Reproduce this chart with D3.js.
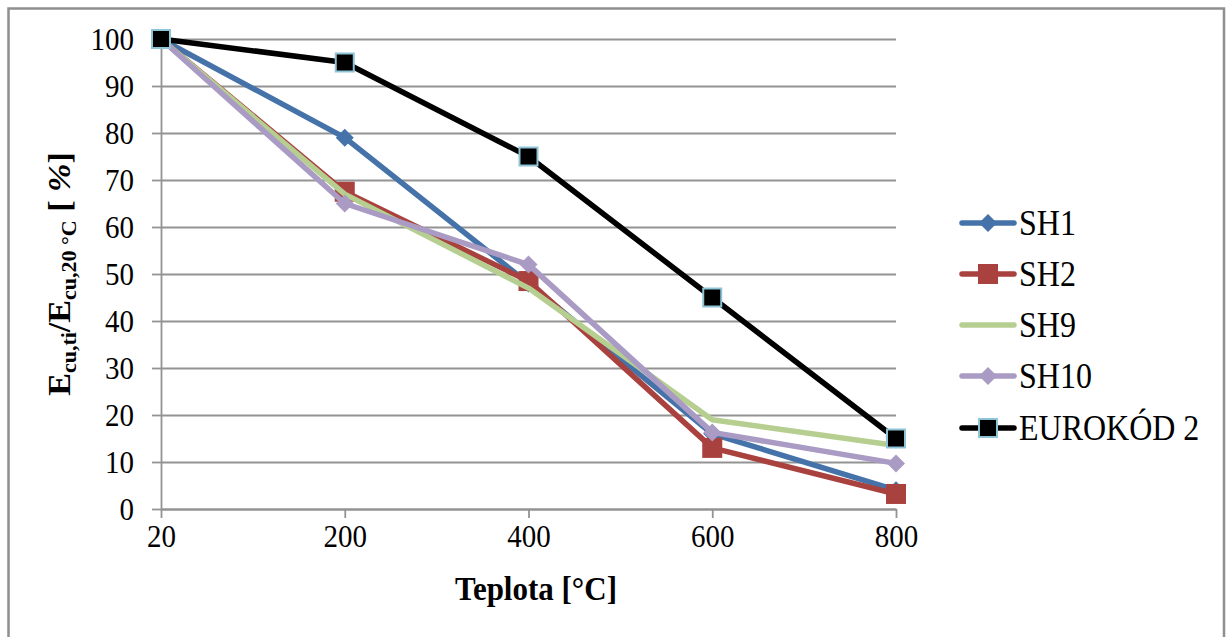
<!DOCTYPE html>
<html>
<head>
<meta charset="utf-8">
<script src="https://cdn.jsdelivr.net/npm/d3@7"></script>
<style>
  html, body { margin: 0; padding: 0; background: #fff; }
  svg { display: block; }
</style>
</head>
<body>
<svg id="chart" width="1226" height="637"></svg>
<script>
// ---- data ----
const categories = ["20", "200", "400", "600", "800"];
const yTicks = [0, 10, 20, 30, 40, 50, 60, 70, 80, 90, 100];
const seriesNames = ["SH1", "SH2", "SH9", "SH10", "EUROKÓD 2"];
const sh1 = [100, 79, 48, 16, 4];
const sh2 = [100, 67.5, 48.5, 13, 3.2];
const sh9 = [100, 67, 47, 19, 13.5];
const sh10 = [100, 65, 52, 16.3, 9.7];
const eurokod2 = [100, 95, 75, 45, 15];
const xTitle = "Teplota [°C]";

// ---- styles ----
const FONT = "'Liberation Serif', 'Times New Roman', Times, serif";
const styles = [
  { color: "#4573a9", marker: "diamond" },
  { color: "#a9423f", marker: "square" },
  { color: "#b6cf91", marker: "none" },
  { color: "#a99bc3", marker: "diamond" },
  { color: "#000000", marker: "squareOutlined" }
];
const seriesValues = [sh1, sh2, sh9, sh10, eurokod2];

const svg = d3.select("#chart");
const SY = 1.1; // vertical text stretch

// frame
svg.append("rect")
  .attr("x", 8.5).attr("y", 8.5).attr("width", 1215.5).attr("height", 660)
  .attr("fill", "none").attr("stroke", "#8e8e8e").attr("stroke-width", 2.5);

const x = d3.scalePoint().domain(categories).range([161, 896]).padding(0);
const y = d3.scaleLinear().domain([0, 100]).range([509, 39]);

const gridColor = "#939393";

// gridlines
svg.append("g")
  .attr("transform", "translate(161,0)")
  .call(d3.axisLeft(y).tickValues(yTicks).tickSize(-735).tickFormat(""))
  .call(g => g.select(".domain").remove())
  .call(g => g.selectAll("line").attr("stroke", gridColor).attr("stroke-width", 1.8));

// y axis
const yAxis = svg.append("g")
  .attr("transform", "translate(161,0)")
  .call(d3.axisLeft(y).tickValues(yTicks).tickSizeInner(9).tickSizeOuter(0));
yAxis.select(".domain").attr("stroke", gridColor).attr("stroke-width", 1.8);
yAxis.selectAll("line").attr("stroke", gridColor).attr("stroke-width", 1.8);
yAxis.selectAll("text")
  .style("font-family", FONT).style("font-size", "29px").style("fill", "#000")
  .attr("x", -27).attr("y", 0).attr("dy", "0.34em")
  .attr("transform", `scale(1,${SY})`);

// x axis
const xAxis = svg.append("g")
  .attr("transform", "translate(0,509)")
  .call(d3.axisBottom(x).tickSizeInner(9).tickSizeOuter(0));
xAxis.select(".domain").attr("stroke", gridColor).attr("stroke-width", 1.8);
xAxis.selectAll("line").attr("stroke", gridColor).attr("stroke-width", 1.8);
xAxis.selectAll("text")
  .style("font-family", FONT).style("font-size", "29px").style("fill", "#000")
  .attr("y", 0).attr("dy", 0)
  .attr("transform", `translate(0,38) scale(1,${SY})`);

// axis titles
svg.append("text")
  .attr("transform", `translate(536,600) scale(1,${SY})`)
  .attr("text-anchor", "middle")
  .style("font-family", FONT).style("font-size", "31px").style("font-weight", "bold")
  .text(xTitle);

const yt = svg.append("text")
  .attr("transform", `translate(70,274) rotate(-90) scale(${SY},1)`)
  .attr("text-anchor", "middle")
  .style("font-family", FONT).style("font-size", "31px").style("font-weight", "bold");
yt.append("tspan").text("E");
yt.append("tspan").style("font-size", "20px").attr("dy", 6).text("cu,ti");
yt.append("tspan").attr("dy", -6).text("/E");
yt.append("tspan").style("font-size", "20px").attr("dy", 6).text("cu,20 °C");
yt.append("tspan").attr("dy", -6).text(" [ ");
yt.append("tspan").style("font-style", "italic").text("%");
yt.append("tspan").text("]");

// markers
function drawMarker(g, type, color, cx, cy) {
  if (type === "diamond") {
    g.append("path")
      .attr("d", `M${cx},${cy-9}L${cx+9},${cy}L${cx},${cy+9}L${cx-9},${cy}Z`)
      .attr("fill", color);
  } else if (type === "square") {
    g.append("rect").attr("x", cx - 10).attr("y", cy - 10)
      .attr("width", 20).attr("height", 20).attr("fill", color);
  } else if (type === "squareOutlined") {
    g.append("rect").attr("x", cx - 9).attr("y", cy - 9)
      .attr("width", 18).attr("height", 18).attr("fill", "#000")
      .attr("stroke", "#8fc3d6").attr("stroke-width", 2);
  }
}

const line = d3.line().x((d, i) => x(categories[i])).y(d => y(d));

seriesValues.forEach((vals, si) => {
  const st = styles[si];
  const g = svg.append("g");
  g.append("path").datum(vals)
    .attr("d", line)
    .attr("fill", "none").attr("stroke", st.color)
    .attr("stroke-width", 5.5).attr("stroke-linejoin", "round").attr("stroke-linecap", "round");
  vals.forEach((v, i) => drawMarker(g, st.marker, st.color, x(categories[i]), y(v)));
});

// legend
const legendY = [223, 274, 325, 376, 428];
seriesNames.forEach((name, si) => {
  const st = styles[si];
  const g = svg.append("g");
  const ly = legendY[si];
  g.append("line").attr("x1", 962).attr("x2", 1014).attr("y1", ly).attr("y2", ly)
    .attr("stroke", st.color).attr("stroke-width", 5.5).attr("stroke-linecap", "round");
  drawMarker(g, st.marker, st.color, 988, ly);
  g.append("text")
    .attr("transform", `translate(1019,${ly}) scale(1,${SY})`)
    .attr("dy", "0.35em")
    .style("font-family", FONT).style("font-size", "32px").style("fill", "#000")
    .text(name);
});
</script>
</body>
</html>
